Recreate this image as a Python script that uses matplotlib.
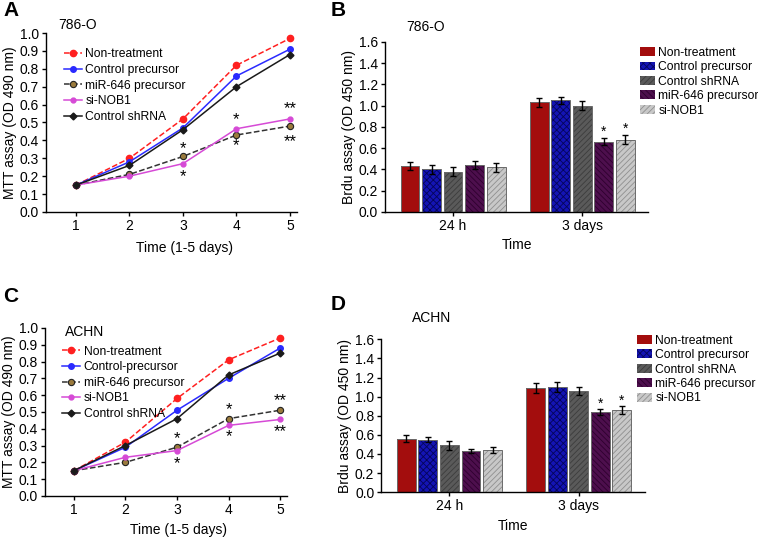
import numpy as np
import matplotlib.pyplot as plt

# ============================================================
# DATA
# ============================================================

DAYS = [1, 2, 3, 4, 5]

# Panel A - 786-O MTT
A_NON = [0.15, 0.30, 0.52, 0.82, 0.97]
A_CTRL_PRE = [0.15, 0.28, 0.47, 0.76, 0.91]
A_MIR646 = [0.15, 0.21, 0.31, 0.43, 0.48]
A_SINOB1 = [0.15, 0.20, 0.27, 0.465, 0.52]
A_CTRL_SH = [0.15, 0.26, 0.46, 0.70, 0.88]
A_STARS = [(3, 0.37, "*"), (3, 0.21, "*"), (4, 0.53, "*"), (4, 0.385, "*"),
           (5, 0.59, "**"), (5, 0.41, "**")]

# Panel C - ACHN MTT
C_NON = [0.15, 0.32, 0.58, 0.81, 0.94]
C_CTRL_PRE = [0.15, 0.29, 0.51, 0.70, 0.88]
C_MIR646 = [0.15, 0.20, 0.29, 0.46, 0.51]
C_SINOB1 = [0.15, 0.23, 0.27, 0.42, 0.455]
C_CTRL_SH = [0.15, 0.30, 0.46, 0.72, 0.85]
C_STARS = [(3, 0.355, "*"), (3, 0.21, "*"), (4, 0.53, "*"), (4, 0.365, "*"),
           (5, 0.585, "**"), (5, 0.40, "**")]

# Bar panels
GROUPS = ["24 h", "3 days"]
BAR_LABELS = ["Non-treatment", "Control precursor", "Control shRNA",
              "miR-646 precursor", "si-NOB1"]

B_24H = [0.43, 0.40, 0.38, 0.44, 0.42]
B_3D = [1.03, 1.05, 1.00, 0.66, 0.68]
B_24H_ERR = [0.04, 0.04, 0.04, 0.04, 0.04]
B_3D_ERR = [0.04, 0.035, 0.04, 0.035, 0.04]
B_STAR = [None, None, None, "*", "*"]

D_24H = [0.56, 0.55, 0.49, 0.43, 0.44]
D_3D = [1.09, 1.10, 1.06, 0.84, 0.86]
D_24H_ERR = [0.04, 0.025, 0.045, 0.025, 0.03]
D_3D_ERR = [0.05, 0.05, 0.04, 0.03, 0.04]
D_STAR = [None, None, None, "*", "*"]

# ============================================================
# STYLE
# ============================================================

plt.rcParams.update({
    'font.family': ['Liberation Sans', 'DejaVu Sans'],
    'font.size': 10,
    'axes.linewidth': 1.0,
    'hatch.linewidth': 0.6,
})

# (face, hatch, hatch colour)
BAR_STYLES = [
    ("#a30d0d", "", "#a30d0d"),
    ("#1414b4", "xxxxx", "#05055a"),
    ("#5a5a5a", "//////", "#3c3c3c"),
    ("#4d0f4d", "\\\\\\\\\\\\", "#2e002e"),
    ("#c8c8c8", "//////", "#8f8f8f"),
]


def style_axes(ax):
    ax.spines['top'].set_visible(False)
    ax.spines['right'].set_visible(False)
    ax.tick_params(direction='out', length=3, width=1, labelsize=10, pad=2)


def plot_lines(ax, series, stars, ctrl_label, leg_y):
    non, ctrl_pre, mir, sinob, ctrl_sh = series
    ax.plot(DAYS, non, color='#ff2020', ls='--', lw=1.1, marker='o', ms=4.5,
            label='Non-treatment', zorder=3)
    ax.plot(DAYS, ctrl_pre, color='#2a2aff', ls='-', lw=1.1, marker='o', ms=4,
            label=ctrl_label, zorder=3)
    ax.plot(DAYS, mir, color='#333333', ls='--', lw=1.1, marker='o', ms=4.5,
            mfc='#9a7a3c', mec='#222222', mew=0.8, label='miR-646 precursor', zorder=3)
    ax.plot(DAYS, sinob, color='#d64ad6', ls='-', lw=1.1, marker='o', ms=3.5,
            label='si-NOB1', zorder=3)
    ax.plot(DAYS, ctrl_sh, color='#1a1a1a', ls='-', lw=1.1, marker='D', ms=3.5,
            label='Control shRNA', zorder=3)

    for x, y, s in stars:
        ax.text(x, y - 0.015, s, ha='center', va='center', fontsize=12)

    ax.set_xlim(0.44, 5.13)
    ax.set_ylim(0, 1.0)
    ax.set_xticks(DAYS)
    yt = np.arange(0, 1.01, 0.1)
    ax.set_yticks(yt)
    ax.set_yticklabels([f"{v:.1f}" for v in yt])
    ax.set_xlabel('Time (1-5 days)', fontsize=10)
    ax.set_ylabel('MTT assay (OD 490 nm)', fontsize=10, labelpad=2)
    ax.xaxis.set_label_coords(0.55, -0.16)
    style_axes(ax)
    ax.legend(loc='upper left', bbox_to_anchor=(0.07, leg_y), frameon=False,
              fontsize=8.7, handlelength=1.5, handletextpad=0.3,
              labelspacing=0.3, borderpad=0, borderaxespad=0)


def plot_bars(ax, v24, v3, e24, e3, stars, leg_y):
    width = 0.88
    for i, (face, hatch, hcol) in enumerate(BAR_STYLES):
        xs = [i - 2, 6 + i - 2]
        vals = [v24[i], v3[i]]
        errs = [e24[i], e3[i]]
        ax.bar(xs, vals, width=width, color=face, hatch=hatch, edgecolor=hcol,
               linewidth=0, zorder=2)
        ax.bar(xs, vals, width=width, fill=False, edgecolor='#6a6a6a',
               linewidth=0.7, zorder=3)
        ax.errorbar(xs, vals, yerr=errs, fmt='none', ecolor='black',
                    elinewidth=1, capsize=2.5, capthick=1, zorder=4)
        if stars[i]:
            ax.text(xs[1], vals[1] + errs[1] + 0.06, stars[i], ha='center',
                    va='center', fontsize=10)

    handles = [plt.Rectangle((0, 0), 1, 1, facecolor=f, hatch=h, edgecolor=hc,
                             linewidth=0)
               for f, h, hc in BAR_STYLES]
    ax.legend(handles, BAR_LABELS, loc='upper left', bbox_to_anchor=(0.97, leg_y),
              frameon=False, fontsize=8.7, handlelength=1.2, handleheight=0.75,
              handletextpad=0.3, labelspacing=0.2, borderpad=0, borderaxespad=0)

    ax.set_xlim(-3.16, 9.07)
    ax.set_ylim(0, 1.6)
    ax.set_xticks([0, 6])
    ax.set_xticklabels(GROUPS)
    yt = np.arange(0, 1.61, 0.2)
    ax.set_yticks(yt)
    ax.set_yticklabels([f"{v:.1f}" for v in yt])
    ax.set_xlabel('Time', fontsize=10)
    ax.set_ylabel('Brdu assay (OD 450 nm)', fontsize=10, labelpad=2)
    style_axes(ax)


# ============================================================
# FIGURE
# ============================================================

fig = plt.figure(figsize=(7.58, 5.42), dpi=100)

axA = fig.add_axes([0.0607, 0.609, 0.331, 0.330])
axB = fig.add_axes([0.508, 0.609, 0.347, 0.314])
axC = fig.add_axes([0.0594, 0.085, 0.319, 0.310])
axD = fig.add_axes([0.503, 0.092, 0.348, 0.282])

plot_lines(axA, [A_NON, A_CTRL_PRE, A_MIR646, A_SINOB1, A_CTRL_SH], A_STARS,
           'Control precursor', 0.915)
plot_lines(axC, [C_NON, C_CTRL_PRE, C_MIR646, C_SINOB1, C_CTRL_SH], C_STARS,
           'Control-precursor', 0.895)
plot_bars(axB, B_24H, B_3D, B_24H_ERR, B_3D_ERR, B_STAR, 0.97)
plot_bars(axD, D_24H, D_3D, D_24H_ERR, D_3D_ERR, D_STAR, 1.03)

# cell line titles
fig.text(58 / 758, 1 - 25 / 542, '786-O', fontsize=10, va='center')
fig.text(406 / 758, 1 - 27 / 542, '786-O', fontsize=10, va='center')
fig.text(65 / 758, 1 - 332 / 542, 'ACHN', fontsize=10, va='center')
fig.text(412 / 758, 1 - 318 / 542, 'ACHN', fontsize=10, va='center')

# panel letters
for letter, x, y in [('A', 3, 10), ('B', 331, 10), ('C', 3, 297), ('D', 331, 305)]:
    fig.text(x / 758, 1 - y / 542, letter, fontsize=15, fontweight='bold',
             va='center')

fig.savefig('out.png', dpi=100, facecolor='white')
